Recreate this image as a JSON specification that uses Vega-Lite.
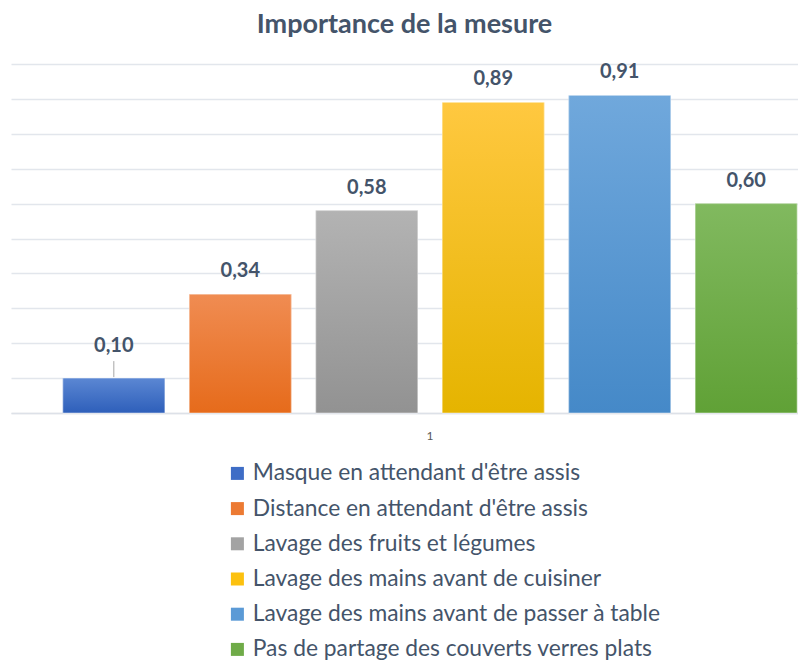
{
  "$schema": "https://vega.github.io/schema/vega-lite/v6.json",
  "autosize": {"type": "none"},
  "padding": {"left": 11, "top": 64, "right": 0, "bottom": 250},
  "width": 787,
  "height": 349,
  "background": "white",
  "config": {
    "view": {"stroke": null},
    "font": "Lato",
    "locale": {"number": {"decimal": ",", "thousands": " ", "grouping": [3], "currency": ["", " €"]}}
  },
  "title": {
    "text": "Importance de la mesure",
    "font": "Lato",
    "fontSize": 27,
    "fontWeight": "bold",
    "color": "#44546a",
    "anchor": "middle",
    "frame": "group",
    "offset": 23
  },
  "data": {
    "values": [
      {"cat": "1", "serie": "Masque en attendant d'être assis", "value": 0.10},
      {"cat": "1", "serie": "Distance en attendant d'être assis", "value": 0.34},
      {"cat": "1", "serie": "Lavage des fruits et légumes", "value": 0.58},
      {"cat": "1", "serie": "Lavage des mains avant de cuisiner", "value": 0.89},
      {"cat": "1", "serie": "Lavage des mains avant de passer à table", "value": 0.91},
      {"cat": "1", "serie": "Pas de partage des couverts verres plats", "value": 0.60}
    ]
  },
  "encoding": {
    "x": {
      "field": "cat", "type": "nominal",
      "scale": {"range": [0, 838], "paddingInner": 0, "paddingOuter": 0},
      "axis": {"title": null, "labelAngle": 0, "labelFontSize": 12, "labelColor": "#595959", "labelFont": "Lato", "domainColor": "#dde1e8", "domainWidth": 1.5, "ticks": false, "labelPadding": 17}
    },
    "xOffset": {
      "field": "serie", "type": "nominal", "sort": null,
      "scale": {"paddingInner": 0.194, "paddingOuter": 0.41}
    },
    "y": {
      "field": "value", "type": "quantitative",
      "scale": {"domain": [0, 1], "nice": false},
      "axis": {"title": null, "labels": false, "ticks": false, "domain": false, "grid": true, "gridColor": "#e2e6ec", "gridWidth": 1.5, "values": [0, 0.1, 0.2, 0.3, 0.4, 0.5, 0.6, 0.7, 0.8, 0.9, 1.0]}
    }
  },
  "layer": [
    {
      "mark": {"type": "bar"},
      "encoding": {
        "color": {
          "field": "serie", "type": "nominal", "sort": null,
          "scale": {"range": ["#3e6dc6", "#ec7a33", "#a3a3a3", "#fcc10f", "#5b9ad6", "#6fab48"]},
          "legend": {
            "orient": "none", "legendX": 215, "legendY": 398, "direction": "vertical",
            "title": null, "symbolType": "square", "symbolSize": 169, "symbolStrokeWidth": 0,
            "labelFontSize": 22.8, "labelFont": "Lato", "labelColor": "#44546a", "labelOffset": 4,
            "rowPadding": 11.2, "padding": 0, "labelLimit": 700
          }
        }
      }
    },
    {
      "mark": {"type": "bar", "stroke": "white", "strokeOpacity": 0.45, "strokeWidth": 1},
      "encoding": {
        "fill": {
          "condition": [
            {"test": "datum.serie === \"Masque en attendant d'être assis\"", "value": {"gradient": "linear", "x1": 0, "y1": 0, "x2": 0, "y2": 1, "stops": [{"offset": 0, "color": "#5b87d3"}, {"offset": 1, "color": "#2e5fba"}]}},
            {"test": "datum.serie === \"Distance en attendant d'être assis\"", "value": {"gradient": "linear", "x1": 0, "y1": 0, "x2": 0, "y2": 1, "stops": [{"offset": 0, "color": "#f08c52"}, {"offset": 1, "color": "#e66b1b"}]}},
            {"test": "datum.serie === 'Lavage des fruits et légumes'", "value": {"gradient": "linear", "x1": 0, "y1": 0, "x2": 0, "y2": 1, "stops": [{"offset": 0, "color": "#b3b3b3"}, {"offset": 1, "color": "#929292"}]}},
            {"test": "datum.serie === 'Lavage des mains avant de cuisiner'", "value": {"gradient": "linear", "x1": 0, "y1": 0, "x2": 0, "y2": 1, "stops": [{"offset": 0, "color": "#ffc840"}, {"offset": 1, "color": "#e5b400"}]}},
            {"test": "datum.serie === 'Lavage des mains avant de passer à table'", "value": {"gradient": "linear", "x1": 0, "y1": 0, "x2": 0, "y2": 1, "stops": [{"offset": 0, "color": "#70a8dc"}, {"offset": 1, "color": "#4589c8"}]}}
          ],
          "value": {"gradient": "linear", "x1": 0, "y1": 0, "x2": 0, "y2": 1, "stops": [{"offset": 0, "color": "#81b95f"}, {"offset": 1, "color": "#60a136"}]}
        }
      }
    },
    {
      "transform": [{"filter": "datum.serie !== \"Masque en attendant d'être assis\""}],
      "mark": {"type": "text", "font": "Lato", "fontSize": 20, "fontWeight": "bold", "color": "#44546a", "baseline": "middle", "dy": -23},
      "encoding": {"text": {"field": "value", "type": "quantitative", "format": ".2f"}}
    },
    {
      "transform": [{"filter": "datum.serie === \"Masque en attendant d'être assis\""}],
      "mark": {"type": "text", "font": "Lato", "fontSize": 20, "fontWeight": "bold", "color": "#44546a", "baseline": "middle", "dy": -32},
      "encoding": {"text": {"field": "value", "type": "quantitative", "format": ".2f"}}
    },
    {
      "transform": [{"filter": "datum.serie === \"Masque en attendant d'être assis\""}],
      "mark": {"type": "rule", "color": "#a6a6a6", "strokeWidth": 1, "yOffset": -1, "y2Offset": -17},
      "encoding": {"y2": {"field": "value"}}
    }
  ]
}
